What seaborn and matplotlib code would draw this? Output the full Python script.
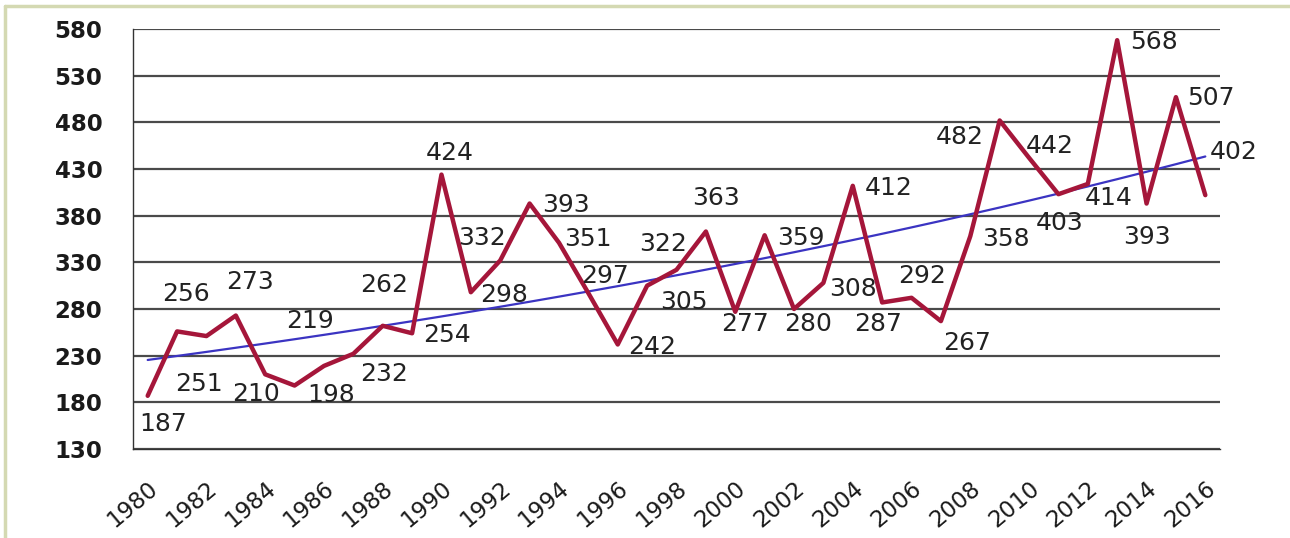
import numpy as np
import pandas as pd
import matplotlib
matplotlib.use("Agg")
import matplotlib.pyplot as plt
import seaborn as sns
from matplotlib.lines import Line2D

# ---- data ----
years = list(range(1980, 2017))
values = [187, 256, 251, 273, 210, 198, 219, 232, 262, 254,
          424, 298, 332, 393, 351, 297, 242, 305, 322, 363,
          277, 359, 280, 308, 412, 287, 292, 267, 358, 482,
          442, 403, 414, 568, 393, 507, 402]
y_ticks = [130, 180, 230, 280, 330, 380, 430, 480, 530, 580]

# label offsets in pixels (dx right, dy down) relative to each point
label_offsets = [(17, 28), (11, -37), (-6, 48), (16, -34), (-7, 20), (39, 9),
                 (-12, -45), (33, 20), (3, -41), (37, 2), (10, -22), (35, 3),
                 (-16, -22), (38, 1), (31, -4), (19, -17), (36, 3), (39, 16),
                 (-11, -26), (12, -34), (12, 12), (38, 3), (16, 15), (32, 6),
                 (38, 2), (-2, 22), (13, -22), (28, 22), (38, 3), (-38, 17),
                 (23, -12), (3, 29), (23, 14), (39, 2), (2, 33), (37, 1), (30, -43)]

idx = np.arange(len(years))
df = pd.DataFrame({"i": idx, "value": values})
# exponential trend line (least squares on log values)
b, a = np.polyfit(idx, np.log(values), 1)
df["trend"] = np.exp(a + b * idx)

sns.set_theme(style="white")
plt.rcParams["font.family"] = ["DejaVu Sans"]

fig = plt.figure(figsize=(12.9, 5.38), dpi=100)
ax = fig.add_axes([133 / 1290, 1 - 449 / 538, (1220 - 133) / 1290, (449 - 29) / 538])

sns.lineplot(data=df, x="i", y="value", ax=ax, color="#a5163a", lw=3.2,
             zorder=4, legend=False)
sns.lineplot(data=df, x="i", y="trend", ax=ax, color="#3b34c2", lw=1.6,
             zorder=3, legend=False)

ax.set_xlim(-0.5, len(years) - 0.5)
ax.set_ylim(y_ticks[0], y_ticks[-1])
ax.set_yticks(y_ticks)
ax.set_yticklabels([str(t) for t in y_ticks], fontsize=16.5, fontweight="bold",
                   color="#1a1a1a")
ax.yaxis.grid(True, color="#4a4a4a", lw=1.6)
ax.set_axisbelow(True)

# x ticks: labels every two years at category centres, tick marks at boundaries
ax.set_xticks(idx[::2])
ax.set_xticklabels([str(y) for y in years[::2]], rotation=40, ha="right",
                   rotation_mode="anchor", fontsize=16.5, color="#1a1a1a")
ax.set_xticks(np.arange(-0.5, len(years)), minor=True)
ax.tick_params(axis="x", which="major", length=0, pad=20)
ax.tick_params(axis="x", which="minor", length=7, width=1, color="#333333",
               direction="out")
ax.tick_params(axis="y", which="major", length=8, width=1.2, color="#4a4a4a",
               direction="out", pad=14)
ax.set_xlabel("")
ax.set_ylabel("")

for side in ["top", "right"]:
    ax.spines[side].set_visible(False)
for side in ["left", "bottom"]:
    ax.spines[side].set_color("#333333")
    ax.spines[side].set_linewidth(1.0)

# data labels
for i, v in enumerate(values):
    dx, dy = label_offsets[i]
    ax.annotate(str(v), xy=(i, v), xytext=(dx - 2, -dy), textcoords="offset pixels",
                ha="center", va="center", fontsize=18, color="#222222", zorder=5)

# light olive frame (left and top edges)
fig.add_artist(Line2D([4.5 / 1290, 4.5 / 1290], [0, 1 - 5.5 / 538],
                      transform=fig.transFigure, color="#d4d9b2", lw=2.5))
fig.add_artist(Line2D([4.5 / 1290, 1], [1 - 5.5 / 538, 1 - 5.5 / 538],
                      transform=fig.transFigure, color="#d4d9b2", lw=2.5))

fig.savefig("out.png", dpi=100)
